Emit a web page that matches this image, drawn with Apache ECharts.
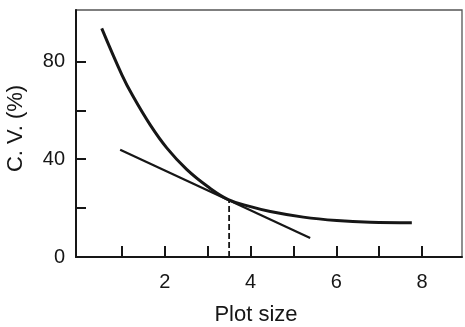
<!DOCTYPE html>
<html>
<head>
<meta charset="utf-8">
<script src="https://cdn.jsdelivr.net/npm/echarts@6/dist/echarts.min.js"></script>
<style>html,body{margin:0;padding:0;background:#fff}#c{width:465px;height:327px}</style>
</head>
<body>
<div id="c"></div>
<script>
// Data
var curveX = [0.53, 1.0, 1.25, 1.66, 2.05, 2.51, 3.0, 3.48, 4.0, 4.46, 5.23, 6.01, 6.79, 7.76];
var curveY = [93.5, 74.5, 66.0, 54.0, 44.5, 35.8, 28.8, 23.5, 20.6, 18.6, 16.3, 14.9, 14.2, 14.0];
var tangentX = [0.96, 5.39];
var tangentY = [43.9, 7.8];
var optimumX = 3.5;
var optimumY = 23.4;
var xTickValues = [1, 2, 3, 4, 5, 6, 7, 8];
var xLabelValues = [2, 4, 6, 8];
var yTickValues = [20, 40, 60, 80];
var yLabelValues = [0, 40, 80];

var ink = '#161616';
var font = 'Liberation Sans, Arial, sans-serif';
function pairs(xs, ys) { return xs.map(function (x, i) { return [x, ys[i]]; }); }

var chart = echarts.init(document.getElementById('c'));
chart.setOption({
  animation: false,
  backgroundColor: '#fff',
  grid: { left: 76, right: 3, top: 10, bottom: 70, outerBoundsMode: 'none', containLabel: false,
          show: true, borderColor: '#555', borderWidth: 1.3 },
  xAxis: {
    type: 'value', min: -0.07, max: 8.93,
    name: 'Plot size', nameLocation: 'middle', nameGap: 47,
    nameTextStyle: { fontFamily: font, fontSize: 22, color: ink, padding: [0, 26, 0, 0] },
    axisLine: { show: true, onZero: false, lineStyle: { color: ink, width: 2 } },
    axisTick: { show: true, inside: true, length: 11, customValues: xTickValues, lineStyle: { color: ink, width: 2 } },
    axisLabel: { customValues: xLabelValues, margin: 15, fontFamily: font, fontSize: 20, color: ink },
    splitLine: { show: false }
  },
  yAxis: {
    type: 'value', min: 0, max: 101,
    name: 'C. V. (%)', nameLocation: 'middle', nameGap: 49, nameRotate: 90,
    nameTextStyle: { fontFamily: font, fontSize: 22, color: ink, padding: [0, 0, 0, 10] },
    axisLine: { show: true, onZero: false, lineStyle: { color: ink, width: 2 } },
    axisTick: { show: true, inside: true, length: 10, customValues: yTickValues, lineStyle: { color: ink, width: 2 } },
    axisLabel: { customValues: yLabelValues, margin: 11, fontFamily: font, fontSize: 20, color: ink },
    splitLine: { show: false }
  },
  series: [
    {
      type: 'line', data: pairs(curveX, curveY), smooth: 0.4, symbol: 'none',
      lineStyle: { color: ink, width: 3 }
    },
    {
      type: 'line', data: pairs(tangentX, tangentY), symbol: 'none',
      lineStyle: { color: ink, width: 2.2 }
    },
    {
      type: 'line', data: [[optimumX, 0], [optimumX, optimumY]], symbol: 'none',
      lineStyle: { color: ink, width: 1.8, type: [6, 3] }
    }
  ]
});
</script>
</body>
</html>
